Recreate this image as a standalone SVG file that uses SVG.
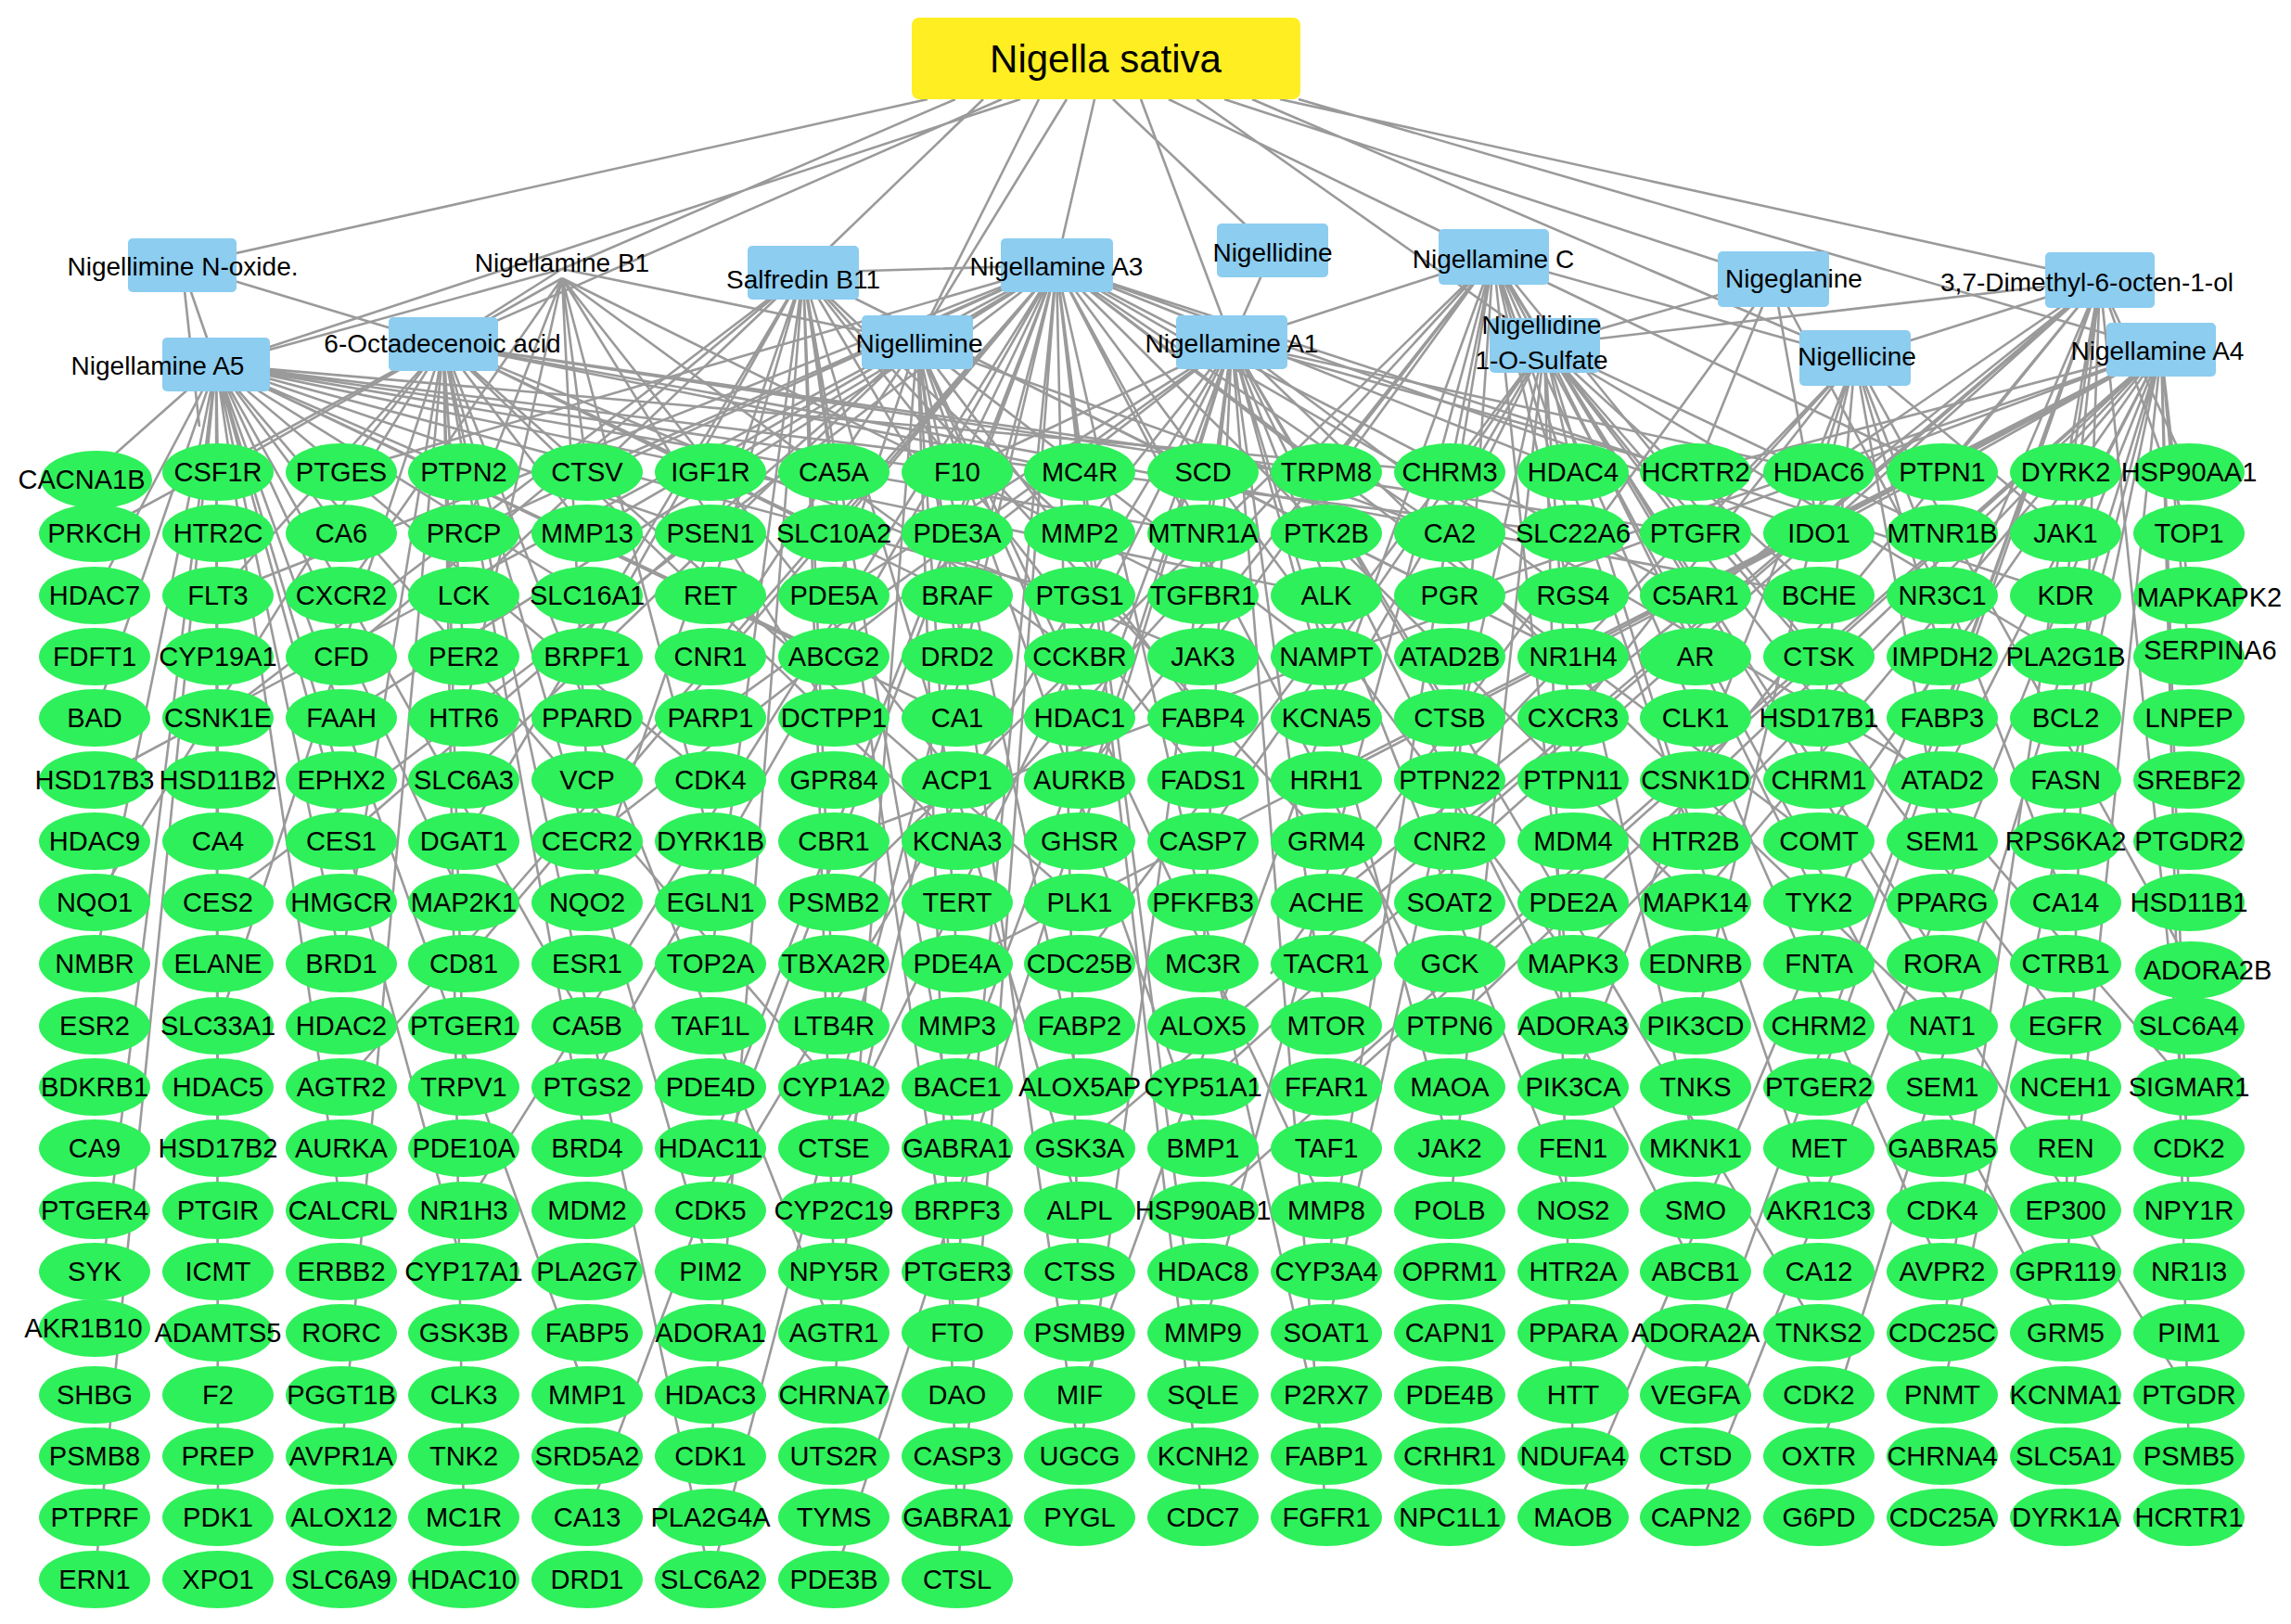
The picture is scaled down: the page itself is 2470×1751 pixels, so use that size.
<svg xmlns="http://www.w3.org/2000/svg" width="2470" height="1751" viewBox="0 0 2470 1751">
<style>
.e ellipse{rx:60px;ry:31px;fill:#2ef05a}
.e text{font-family:"Liberation Sans Narrow","Liberation Sans",Arial,sans-serif;font-size:29px;text-anchor:middle;dominant-baseline:central;fill:#000}
.c rect{fill:#8ccdf0}
.c text{font-family:"Liberation Sans",Arial,sans-serif;font-size:28px;text-anchor:middle;dominant-baseline:central;fill:#000}
#edges path{fill:none;stroke:#9a9a9a;stroke-width:2.6}
</style>
<rect width="2470" height="1751" fill="#fff"/>
<g id="edges">
<path d="M1000 107L196 286M1030 107L606 290M1060 107L866 294M1080 107L478 371M1100 107L233 393M1150 107L989 369M1180 107L1139 286M1200 107L1372 270M1230 107L1328 369M1260 107L1610 277M1290 107L1665 372M1320 107L1912 301M1350 107L2000 386M1380 107L2264 302M1400 107L2330 377M1120 107L989 369"/>
<path d="M196 286L233 393M196 286L478 371M196 286L215 460M606 290L233 393M606 290L478 371M606 290L989 369M866 294L1139 286M1372 270L1328 369M1610 277L1328 369M1912 301L1665 372M2264 302L2000 386M2264 302L1665 372M1610 277L2000 386"/>
<path d="M233 393L102 509M233 393L235 509M233 393L368 575M233 393L500 509M233 393L633 642M233 393L766 575M233 393L899 708M233 393L1032 509M233 393L1164 642M233 393L102 1039M233 393L235 1238M233 393L368 841M233 393L500 973M233 393L633 1106M233 393L102 774M233 393L235 907M233 393L766 841M233 393L1297 575M233 393L1430 642M233 393L102 1437M233 393L235 1570M233 393L368 1305M233 393L899 1172M233 393L500 1371M233 393L1032 774M233 393L1563 509M233 393L1696 575M233 393L633 1504M233 393L102 1703M233 393L235 1636M233 393L368 1039M233 393L102 642"/>
<path d="M478 371L102 575M478 371L235 642M478 371L368 509M478 371L500 708M478 371L633 575M478 371L766 509M478 371L899 575M478 371L1032 642M478 371L1164 509M478 371L1297 708M478 371L1430 509M478 371L368 1039M478 371L500 1172M478 371L633 1238M478 371L766 1371M478 371L899 1437M478 371L235 1106M478 371L1032 907M478 371L1164 973M478 371L1828 575M478 371L1961 642M478 371L102 973M478 371L368 1570M478 371L500 1636M478 371L766 1703"/>
<path d="M606 300L235 509M606 300L368 642M606 300L500 774M606 300L633 841M606 300L766 907M606 300L899 774M606 300L1032 841M606 300L1164 708M606 300L1297 642M606 300L500 575M606 300L633 509"/>
<path d="M866 294L500 642M866 294L633 708M866 294L766 642M866 294L899 509M866 294L1032 575M866 294L1164 575M866 294L1297 509M866 294L1430 575M866 294L368 708M866 294L235 774M866 294L766 1039M866 294L899 1106M866 294L1032 1238M866 294L1164 1305M866 294L633 973M866 294L500 907M866 294L1297 841M866 294L1430 907M866 294L1563 642M866 294L1696 708M866 294L899 1371M866 294L1032 1437M866 294L766 1570"/>
<path d="M989 369L633 575M989 369L766 708M989 369L899 642M989 369L1032 708M989 369L1164 774M989 369L1297 774M989 369L1430 708M989 369L1563 575M989 369L500 841M989 369L368 907M989 369L1032 1039M989 369L1164 1172M989 369L1297 1238M989 369L1430 1305M989 369L899 1504M989 369L1032 1636M989 369L1164 1570"/>
<path d="M1139 286L368 509M1139 286L500 575M1139 286L633 509M1139 286L766 509M1139 286L899 575M1139 286L1032 509M1139 286L1164 509M1139 286L1297 575M1139 286L1430 509M1139 286L1563 575M1139 286L1696 509M1139 286L1828 642M1139 286L1961 575M1139 286L235 642M1139 286L368 774M1139 286L500 1039M1139 286L633 1172M1139 286L766 1238M1139 286L899 1305M1139 286L1032 1371M1139 286L1164 1437M1139 286L1297 1504M1139 286L1430 1570M1139 286L1563 1106M1139 286L1696 1039M1139 286L1828 973M1139 286L1961 907M1139 286L2094 841M1139 286L102 841M1139 286L235 973M1139 286L368 1172M1139 286L500 1305M1139 286L633 1636M1139 286L766 1703M1139 286L1032 1703M1139 286L1297 1636M1139 286L2227 642"/>
<path d="M1328 369L1032 509M1328 369L1164 575M1328 369L1297 642M1328 369L1430 708M1328 369L1563 774M1328 369L1696 642M1328 369L1828 509M1328 369L1961 509M1328 369L899 642M1328 369L766 774M1328 369L633 907M1328 369L1164 907M1328 369L1297 1039M1328 369L1430 1106M1328 369L1563 1238M1328 369L1696 1305M1328 369L1828 1371M1328 369L1961 1437M1328 369L2094 1106M1328 369L1032 1172M1328 369L899 1238M1328 369L766 1305M1328 369L1164 1570M1328 369L1430 1636M1328 369L899 1703"/>
<path d="M1610 277L1430 509M1610 277L1563 509M1610 277L1696 575M1610 277L1828 642M1610 277L1961 708M1610 277L2094 509M1610 277L1297 708M1610 277L1164 841M1610 277L1032 907M1610 277L899 973M1610 277L1563 973M1610 277L1696 1106M1610 277L1828 1238M1610 277L1961 1305M1610 277L2094 1371M1610 277L2227 1437M1610 277L2360 1504M1610 277L1430 1371M1610 277L1297 1437M1610 277L1164 1504"/>
<path d="M1665 372L1563 575M1665 372L1696 509M1665 372L1828 575M1665 372L1961 642M1665 372L2094 575M1665 372L2227 708M1665 372L1430 774M1665 372L1297 907M1665 372L1164 1039M1665 372L1696 841M1665 372L1828 907M1665 372L1961 973M1665 372L2094 1039M1665 372L2227 1106M1665 372L2360 1172M1665 372L1563 1305M1665 372L1430 1437M1665 372L1696 1570"/>
<path d="M1912 301L1828 509M1912 301L1961 575M1912 301L2094 642M1912 301L1370 1050"/>
<path d="M2000 386L1828 575M2000 386L1961 509M2000 386L2094 708M2000 386L2227 575M2000 386L1696 774M2000 386L1563 841M2000 386L1961 841M2000 386L2094 907M2000 386L2227 973M2000 386L2360 1039M2000 386L1828 1106M2000 386L1696 1172"/>
<path d="M2264 302L1961 509M2264 302L2094 509M2264 302L2227 509M2264 302L2360 509M2264 302L2360 575M2264 302L2227 642M2264 302L2094 775M2264 302L1828 841M2264 302L1563 907M2264 302L1430 973M2264 302L1297 1172M2264 302L1164 1238M2264 302L1961 1172M2264 302L2360 1238M2264 302L2227 1305M2264 302L2094 1437M2264 302L1828 1504M2264 302L1696 1636"/>
<path d="M2330 377L1828 509M2330 377L1961 575M2330 377L2094 509M2330 377L2227 575M2330 377L2360 642M2330 377L2360 708M2330 377L2227 774M2330 377L2094 841M2330 377L1961 907M2330 377L1828 973M2330 377L1696 1039M2330 377L1563 1106M2330 377L1430 1172M2330 377L1297 1305M2330 377L2360 1305M2330 377L2227 1371M2330 377L2094 1504M2330 377L1961 1570M2330 377L1828 1636M2330 377L2360 1570M2330 377L1696 708M2330 377L1563 642M2330 377L1430 841M2330 377L1032 1039M2330 377L899 907"/>
</g>
<g id="root"><rect x="983" y="19" width="419" height="88" rx="8" fill="#ffee22"/><text x="1192" y="63" font-family="Liberation Sans, Arial, sans-serif" font-size="42" text-anchor="middle" dominant-baseline="central">Nigella sativa</text></g>
<g class="c">
<g id="c_noxide"><rect x="138" y="257" width="117" height="58" rx="5"/><text x="197" y="287">Nigellimine N-oxide.</text></g>
<g id="c_b1"><text x="606" y="283">Nigellamine B1</text></g>
<g id="c_salfredin"><rect x="806" y="265" width="120" height="58" rx="5"/><text x="866" y="301">Salfredin B11</text></g>
<g id="c_a3"><rect x="1079" y="257" width="121" height="58" rx="5"/><text x="1139" y="287">Nigellamine A3</text></g>
<g id="c_nigellidine"><rect x="1312" y="241" width="120" height="58" rx="5"/><text x="1372" y="272">Nigellidine</text></g>
<g id="c_c"><rect x="1551" y="247" width="119" height="60" rx="5"/><text x="1610" y="279">Nigellamine C</text></g>
<g id="c_nigeglanine"><rect x="1852" y="271" width="120" height="60" rx="5"/><text x="1934" y="300">Nigeglanine</text></g>
<g id="c_dimethyl"><rect x="2205" y="272" width="118" height="60" rx="5"/><text x="2250" y="304">3,7-Dimethyl-6-octen-1-ol</text></g>
<g id="c_a5"><rect x="175" y="364" width="116" height="58" rx="5"/><text x="170" y="394">Nigellamine A5</text></g>
<g id="c_octa"><rect x="419" y="342" width="118" height="58" rx="5"/><text x="477" y="370">6-Octadecenoic acid</text></g>
<g id="c_nigellimine"><rect x="929" y="340" width="120" height="58" rx="5"/><text x="991" y="370">Nigellimine</text></g>
<g id="c_a1"><rect x="1268" y="340" width="120" height="58" rx="5"/><text x="1328" y="370">Nigellamine A1</text></g>
<g id="c_sulfate"><rect x="1606" y="343" width="119" height="59" rx="5"/><text x="1662" y="350">Nigellidine</text><text x="1662" y="388">1-O-Sulfate</text></g>
<g id="c_nigellicine"><rect x="1940" y="356" width="120" height="60" rx="5"/><text x="2002" y="384">Nigellicine</text></g>
<g id="c_a4"><rect x="2271" y="348" width="118" height="58" rx="5"/><text x="2326" y="378">Nigellamine A4</text></g>
</g>
<g class="e">
<g id="t0_0"><ellipse cx="104" cy="517"/><text x="88" y="517">CACNA1B</text></g>
<g id="t0_1"><ellipse cx="235" cy="509"/><text x="235" y="509">CSF1R</text></g>
<g id="t0_2"><ellipse cx="368" cy="509"/><text x="368" y="509">PTGES</text></g>
<g id="t0_3"><ellipse cx="500" cy="509"/><text x="500" y="509">PTPN2</text></g>
<g id="t0_4"><ellipse cx="633" cy="509"/><text x="633" y="509">CTSV</text></g>
<g id="t0_5"><ellipse cx="766" cy="509"/><text x="766" y="509">IGF1R</text></g>
<g id="t0_6"><ellipse cx="899" cy="509"/><text x="899" y="509">CA5A</text></g>
<g id="t0_7"><ellipse cx="1032" cy="509"/><text x="1032" y="509">F10</text></g>
<g id="t0_8"><ellipse cx="1164" cy="509"/><text x="1164" y="509">MC4R</text></g>
<g id="t0_9"><ellipse cx="1297" cy="509"/><text x="1297" y="509">SCD</text></g>
<g id="t0_10"><ellipse cx="1430" cy="509"/><text x="1430" y="509">TRPM8</text></g>
<g id="t0_11"><ellipse cx="1563" cy="509"/><text x="1563" y="509">CHRM3</text></g>
<g id="t0_12"><ellipse cx="1696" cy="509"/><text x="1696" y="509">HDAC4</text></g>
<g id="t0_13"><ellipse cx="1828" cy="509"/><text x="1828" y="509">HCRTR2</text></g>
<g id="t0_14"><ellipse cx="1961" cy="509"/><text x="1961" y="509">HDAC6</text></g>
<g id="t0_15"><ellipse cx="2094" cy="509"/><text x="2094" y="509">PTPN1</text></g>
<g id="t0_16"><ellipse cx="2227" cy="509"/><text x="2227" y="509">DYRK2</text></g>
<g id="t0_17"><ellipse cx="2360" cy="509"/><text x="2360" y="509">HSP90AA1</text></g>
<g id="t1_0"><ellipse cx="102" cy="575"/><text x="102" y="575">PRKCH</text></g>
<g id="t1_1"><ellipse cx="235" cy="575"/><text x="235" y="575">HTR2C</text></g>
<g id="t1_2"><ellipse cx="368" cy="575"/><text x="368" y="575">CA6</text></g>
<g id="t1_3"><ellipse cx="500" cy="575"/><text x="500" y="575">PRCP</text></g>
<g id="t1_4"><ellipse cx="633" cy="575"/><text x="633" y="575">MMP13</text></g>
<g id="t1_5"><ellipse cx="766" cy="575"/><text x="766" y="575">PSEN1</text></g>
<g id="t1_6"><ellipse cx="899" cy="575"/><text x="899" y="575">SLC10A2</text></g>
<g id="t1_7"><ellipse cx="1032" cy="575"/><text x="1032" y="575">PDE3A</text></g>
<g id="t1_8"><ellipse cx="1164" cy="575"/><text x="1164" y="575">MMP2</text></g>
<g id="t1_9"><ellipse cx="1297" cy="575"/><text x="1297" y="575">MTNR1A</text></g>
<g id="t1_10"><ellipse cx="1430" cy="575"/><text x="1430" y="575">PTK2B</text></g>
<g id="t1_11"><ellipse cx="1563" cy="575"/><text x="1563" y="575">CA2</text></g>
<g id="t1_12"><ellipse cx="1696" cy="575"/><text x="1696" y="575">SLC22A6</text></g>
<g id="t1_13"><ellipse cx="1828" cy="575"/><text x="1828" y="575">PTGFR</text></g>
<g id="t1_14"><ellipse cx="1961" cy="575"/><text x="1961" y="575">IDO1</text></g>
<g id="t1_15"><ellipse cx="2094" cy="575"/><text x="2094" y="575">MTNR1B</text></g>
<g id="t1_16"><ellipse cx="2227" cy="575"/><text x="2227" y="575">JAK1</text></g>
<g id="t1_17"><ellipse cx="2360" cy="575"/><text x="2360" y="575">TOP1</text></g>
<g id="t2_0"><ellipse cx="102" cy="642"/><text x="102" y="642">HDAC7</text></g>
<g id="t2_1"><ellipse cx="235" cy="642"/><text x="235" y="642">FLT3</text></g>
<g id="t2_2"><ellipse cx="368" cy="642"/><text x="368" y="642">CXCR2</text></g>
<g id="t2_3"><ellipse cx="500" cy="642"/><text x="500" y="642">LCK</text></g>
<g id="t2_4"><ellipse cx="633" cy="642"/><text x="633" y="642">SLC16A1</text></g>
<g id="t2_5"><ellipse cx="766" cy="642"/><text x="766" y="642">RET</text></g>
<g id="t2_6"><ellipse cx="899" cy="642"/><text x="899" y="642">PDE5A</text></g>
<g id="t2_7"><ellipse cx="1032" cy="642"/><text x="1032" y="642">BRAF</text></g>
<g id="t2_8"><ellipse cx="1164" cy="642"/><text x="1164" y="642">PTGS1</text></g>
<g id="t2_9"><ellipse cx="1297" cy="642"/><text x="1297" y="642">TGFBR1</text></g>
<g id="t2_10"><ellipse cx="1430" cy="642"/><text x="1430" y="642">ALK</text></g>
<g id="t2_11"><ellipse cx="1563" cy="642"/><text x="1563" y="642">PGR</text></g>
<g id="t2_12"><ellipse cx="1696" cy="642"/><text x="1696" y="642">RGS4</text></g>
<g id="t2_13"><ellipse cx="1828" cy="642"/><text x="1828" y="642">C5AR1</text></g>
<g id="t2_14"><ellipse cx="1961" cy="642"/><text x="1961" y="642">BCHE</text></g>
<g id="t2_15"><ellipse cx="2094" cy="642"/><text x="2094" y="642">NR3C1</text></g>
<g id="t2_16"><ellipse cx="2227" cy="642"/><text x="2227" y="642">KDR</text></g>
<g id="t2_17"><ellipse cx="2360" cy="642"/><text x="2382" y="644">MAPKAPK2</text></g>
<g id="t3_0"><ellipse cx="102" cy="708"/><text x="102" y="708">FDFT1</text></g>
<g id="t3_1"><ellipse cx="235" cy="708"/><text x="235" y="708">CYP19A1</text></g>
<g id="t3_2"><ellipse cx="368" cy="708"/><text x="368" y="708">CFD</text></g>
<g id="t3_3"><ellipse cx="500" cy="708"/><text x="500" y="708">PER2</text></g>
<g id="t3_4"><ellipse cx="633" cy="708"/><text x="633" y="708">BRPF1</text></g>
<g id="t3_5"><ellipse cx="766" cy="708"/><text x="766" y="708">CNR1</text></g>
<g id="t3_6"><ellipse cx="899" cy="708"/><text x="899" y="708">ABCG2</text></g>
<g id="t3_7"><ellipse cx="1032" cy="708"/><text x="1032" y="708">DRD2</text></g>
<g id="t3_8"><ellipse cx="1164" cy="708"/><text x="1164" y="708">CCKBR</text></g>
<g id="t3_9"><ellipse cx="1297" cy="708"/><text x="1297" y="708">JAK3</text></g>
<g id="t3_10"><ellipse cx="1430" cy="708"/><text x="1430" y="708">NAMPT</text></g>
<g id="t3_11"><ellipse cx="1563" cy="708"/><text x="1563" y="708">ATAD2B</text></g>
<g id="t3_12"><ellipse cx="1696" cy="708"/><text x="1696" y="708">NR1H4</text></g>
<g id="t3_13"><ellipse cx="1828" cy="708"/><text x="1828" y="708">AR</text></g>
<g id="t3_14"><ellipse cx="1961" cy="708"/><text x="1961" y="708">CTSK</text></g>
<g id="t3_15"><ellipse cx="2094" cy="708"/><text x="2094" y="708">IMPDH2</text></g>
<g id="t3_16"><ellipse cx="2227" cy="708"/><text x="2227" y="708">PLA2G1B</text></g>
<g id="t3_17"><ellipse cx="2360" cy="708"/><text x="2383" y="701">SERPINA6</text></g>
<g id="t4_0"><ellipse cx="102" cy="774"/><text x="102" y="774">BAD</text></g>
<g id="t4_1"><ellipse cx="235" cy="774"/><text x="235" y="774">CSNK1E</text></g>
<g id="t4_2"><ellipse cx="368" cy="774"/><text x="368" y="774">FAAH</text></g>
<g id="t4_3"><ellipse cx="500" cy="774"/><text x="500" y="774">HTR6</text></g>
<g id="t4_4"><ellipse cx="633" cy="774"/><text x="633" y="774">PPARD</text></g>
<g id="t4_5"><ellipse cx="766" cy="774"/><text x="766" y="774">PARP1</text></g>
<g id="t4_6"><ellipse cx="899" cy="774"/><text x="899" y="774">DCTPP1</text></g>
<g id="t4_7"><ellipse cx="1032" cy="774"/><text x="1032" y="774">CA1</text></g>
<g id="t4_8"><ellipse cx="1164" cy="774"/><text x="1164" y="774">HDAC1</text></g>
<g id="t4_9"><ellipse cx="1297" cy="774"/><text x="1297" y="774">FABP4</text></g>
<g id="t4_10"><ellipse cx="1430" cy="774"/><text x="1430" y="774">KCNA5</text></g>
<g id="t4_11"><ellipse cx="1563" cy="774"/><text x="1563" y="774">CTSB</text></g>
<g id="t4_12"><ellipse cx="1696" cy="774"/><text x="1696" y="774">CXCR3</text></g>
<g id="t4_13"><ellipse cx="1828" cy="774"/><text x="1828" y="774">CLK1</text></g>
<g id="t4_14"><ellipse cx="1961" cy="774"/><text x="1961" y="774">HSD17B1</text></g>
<g id="t4_15"><ellipse cx="2094" cy="774"/><text x="2094" y="774">FABP3</text></g>
<g id="t4_16"><ellipse cx="2227" cy="774"/><text x="2227" y="774">BCL2</text></g>
<g id="t4_17"><ellipse cx="2360" cy="774"/><text x="2360" y="774">LNPEP</text></g>
<g id="t5_0"><ellipse cx="102" cy="841"/><text x="102" y="841">HSD17B3</text></g>
<g id="t5_1"><ellipse cx="235" cy="841"/><text x="235" y="841">HSD11B2</text></g>
<g id="t5_2"><ellipse cx="368" cy="841"/><text x="368" y="841">EPHX2</text></g>
<g id="t5_3"><ellipse cx="500" cy="841"/><text x="500" y="841">SLC6A3</text></g>
<g id="t5_4"><ellipse cx="633" cy="841"/><text x="633" y="841">VCP</text></g>
<g id="t5_5"><ellipse cx="766" cy="841"/><text x="766" y="841">CDK4</text></g>
<g id="t5_6"><ellipse cx="899" cy="841"/><text x="899" y="841">GPR84</text></g>
<g id="t5_7"><ellipse cx="1032" cy="841"/><text x="1032" y="841">ACP1</text></g>
<g id="t5_8"><ellipse cx="1164" cy="841"/><text x="1164" y="841">AURKB</text></g>
<g id="t5_9"><ellipse cx="1297" cy="841"/><text x="1297" y="841">FADS1</text></g>
<g id="t5_10"><ellipse cx="1430" cy="841"/><text x="1430" y="841">HRH1</text></g>
<g id="t5_11"><ellipse cx="1563" cy="841"/><text x="1563" y="841">PTPN22</text></g>
<g id="t5_12"><ellipse cx="1696" cy="841"/><text x="1696" y="841">PTPN11</text></g>
<g id="t5_13"><ellipse cx="1828" cy="841"/><text x="1828" y="841">CSNK1D</text></g>
<g id="t5_14"><ellipse cx="1961" cy="841"/><text x="1961" y="841">CHRM1</text></g>
<g id="t5_15"><ellipse cx="2094" cy="841"/><text x="2094" y="841">ATAD2</text></g>
<g id="t5_16"><ellipse cx="2227" cy="841"/><text x="2227" y="841">FASN</text></g>
<g id="t5_17"><ellipse cx="2360" cy="841"/><text x="2360" y="841">SREBF2</text></g>
<g id="t6_0"><ellipse cx="102" cy="907"/><text x="102" y="907">HDAC9</text></g>
<g id="t6_1"><ellipse cx="235" cy="907"/><text x="235" y="907">CA4</text></g>
<g id="t6_2"><ellipse cx="368" cy="907"/><text x="368" y="907">CES1</text></g>
<g id="t6_3"><ellipse cx="500" cy="907"/><text x="500" y="907">DGAT1</text></g>
<g id="t6_4"><ellipse cx="633" cy="907"/><text x="633" y="907">CECR2</text></g>
<g id="t6_5"><ellipse cx="766" cy="907"/><text x="766" y="907">DYRK1B</text></g>
<g id="t6_6"><ellipse cx="899" cy="907"/><text x="899" y="907">CBR1</text></g>
<g id="t6_7"><ellipse cx="1032" cy="907"/><text x="1032" y="907">KCNA3</text></g>
<g id="t6_8"><ellipse cx="1164" cy="907"/><text x="1164" y="907">GHSR</text></g>
<g id="t6_9"><ellipse cx="1297" cy="907"/><text x="1297" y="907">CASP7</text></g>
<g id="t6_10"><ellipse cx="1430" cy="907"/><text x="1430" y="907">GRM4</text></g>
<g id="t6_11"><ellipse cx="1563" cy="907"/><text x="1563" y="907">CNR2</text></g>
<g id="t6_12"><ellipse cx="1696" cy="907"/><text x="1696" y="907">MDM4</text></g>
<g id="t6_13"><ellipse cx="1828" cy="907"/><text x="1828" y="907">HTR2B</text></g>
<g id="t6_14"><ellipse cx="1961" cy="907"/><text x="1961" y="907">COMT</text></g>
<g id="t6_15"><ellipse cx="2094" cy="907"/><text x="2094" y="907">SEM1</text></g>
<g id="t6_16"><ellipse cx="2227" cy="907"/><text x="2227" y="907">RPS6KA2</text></g>
<g id="t6_17"><ellipse cx="2360" cy="907"/><text x="2360" y="907">PTGDR2</text></g>
<g id="t7_0"><ellipse cx="102" cy="973"/><text x="102" y="973">NQO1</text></g>
<g id="t7_1"><ellipse cx="235" cy="973"/><text x="235" y="973">CES2</text></g>
<g id="t7_2"><ellipse cx="368" cy="973"/><text x="368" y="973">HMGCR</text></g>
<g id="t7_3"><ellipse cx="500" cy="973"/><text x="500" y="973">MAP2K1</text></g>
<g id="t7_4"><ellipse cx="633" cy="973"/><text x="633" y="973">NQO2</text></g>
<g id="t7_5"><ellipse cx="766" cy="973"/><text x="766" y="973">EGLN1</text></g>
<g id="t7_6"><ellipse cx="899" cy="973"/><text x="899" y="973">PSMB2</text></g>
<g id="t7_7"><ellipse cx="1032" cy="973"/><text x="1032" y="973">TERT</text></g>
<g id="t7_8"><ellipse cx="1164" cy="973"/><text x="1164" y="973">PLK1</text></g>
<g id="t7_9"><ellipse cx="1297" cy="973"/><text x="1297" y="973">PFKFB3</text></g>
<g id="t7_10"><ellipse cx="1430" cy="973"/><text x="1430" y="973">ACHE</text></g>
<g id="t7_11"><ellipse cx="1563" cy="973"/><text x="1563" y="973">SOAT2</text></g>
<g id="t7_12"><ellipse cx="1696" cy="973"/><text x="1696" y="973">PDE2A</text></g>
<g id="t7_13"><ellipse cx="1828" cy="973"/><text x="1828" y="973">MAPK14</text></g>
<g id="t7_14"><ellipse cx="1961" cy="973"/><text x="1961" y="973">TYK2</text></g>
<g id="t7_15"><ellipse cx="2094" cy="973"/><text x="2094" y="973">PPARG</text></g>
<g id="t7_16"><ellipse cx="2227" cy="973"/><text x="2227" y="973">CA14</text></g>
<g id="t7_17"><ellipse cx="2360" cy="973"/><text x="2360" y="973">HSD11B1</text></g>
<g id="t8_0"><ellipse cx="102" cy="1039"/><text x="102" y="1039">NMBR</text></g>
<g id="t8_1"><ellipse cx="235" cy="1039"/><text x="235" y="1039">ELANE</text></g>
<g id="t8_2"><ellipse cx="368" cy="1039"/><text x="368" y="1039">BRD1</text></g>
<g id="t8_3"><ellipse cx="500" cy="1039"/><text x="500" y="1039">CD81</text></g>
<g id="t8_4"><ellipse cx="633" cy="1039"/><text x="633" y="1039">ESR1</text></g>
<g id="t8_5"><ellipse cx="766" cy="1039"/><text x="766" y="1039">TOP2A</text></g>
<g id="t8_6"><ellipse cx="899" cy="1039"/><text x="899" y="1039">TBXA2R</text></g>
<g id="t8_7"><ellipse cx="1032" cy="1039"/><text x="1032" y="1039">PDE4A</text></g>
<g id="t8_8"><ellipse cx="1164" cy="1039"/><text x="1164" y="1039">CDC25B</text></g>
<g id="t8_9"><ellipse cx="1297" cy="1039"/><text x="1297" y="1039">MC3R</text></g>
<g id="t8_10"><ellipse cx="1430" cy="1039"/><text x="1430" y="1039">TACR1</text></g>
<g id="t8_11"><ellipse cx="1563" cy="1039"/><text x="1563" y="1039">GCK</text></g>
<g id="t8_12"><ellipse cx="1696" cy="1039"/><text x="1696" y="1039">MAPK3</text></g>
<g id="t8_13"><ellipse cx="1828" cy="1039"/><text x="1828" y="1039">EDNRB</text></g>
<g id="t8_14"><ellipse cx="1961" cy="1039"/><text x="1961" y="1039">FNTA</text></g>
<g id="t8_15"><ellipse cx="2094" cy="1039"/><text x="2094" y="1039">RORA</text></g>
<g id="t8_16"><ellipse cx="2227" cy="1039"/><text x="2227" y="1039">CTRB1</text></g>
<g id="t8_17"><ellipse cx="2362" cy="1046"/><text x="2380" y="1046">ADORA2B</text></g>
<g id="t9_0"><ellipse cx="102" cy="1106"/><text x="102" y="1106">ESR2</text></g>
<g id="t9_1"><ellipse cx="235" cy="1106"/><text x="235" y="1106">SLC33A1</text></g>
<g id="t9_2"><ellipse cx="368" cy="1106"/><text x="368" y="1106">HDAC2</text></g>
<g id="t9_3"><ellipse cx="500" cy="1106"/><text x="500" y="1106">PTGER1</text></g>
<g id="t9_4"><ellipse cx="633" cy="1106"/><text x="633" y="1106">CA5B</text></g>
<g id="t9_5"><ellipse cx="766" cy="1106"/><text x="766" y="1106">TAF1L</text></g>
<g id="t9_6"><ellipse cx="899" cy="1106"/><text x="899" y="1106">LTB4R</text></g>
<g id="t9_7"><ellipse cx="1032" cy="1106"/><text x="1032" y="1106">MMP3</text></g>
<g id="t9_8"><ellipse cx="1164" cy="1106"/><text x="1164" y="1106">FABP2</text></g>
<g id="t9_9"><ellipse cx="1297" cy="1106"/><text x="1297" y="1106">ALOX5</text></g>
<g id="t9_10"><ellipse cx="1430" cy="1106"/><text x="1430" y="1106">MTOR</text></g>
<g id="t9_11"><ellipse cx="1563" cy="1106"/><text x="1563" y="1106">PTPN6</text></g>
<g id="t9_12"><ellipse cx="1696" cy="1106"/><text x="1696" y="1106">ADORA3</text></g>
<g id="t9_13"><ellipse cx="1828" cy="1106"/><text x="1828" y="1106">PIK3CD</text></g>
<g id="t9_14"><ellipse cx="1961" cy="1106"/><text x="1961" y="1106">CHRM2</text></g>
<g id="t9_15"><ellipse cx="2094" cy="1106"/><text x="2094" y="1106">NAT1</text></g>
<g id="t9_16"><ellipse cx="2227" cy="1106"/><text x="2227" y="1106">EGFR</text></g>
<g id="t9_17"><ellipse cx="2360" cy="1106"/><text x="2360" y="1106">SLC6A4</text></g>
<g id="t10_0"><ellipse cx="102" cy="1172"/><text x="102" y="1172">BDKRB1</text></g>
<g id="t10_1"><ellipse cx="235" cy="1172"/><text x="235" y="1172">HDAC5</text></g>
<g id="t10_2"><ellipse cx="368" cy="1172"/><text x="368" y="1172">AGTR2</text></g>
<g id="t10_3"><ellipse cx="500" cy="1172"/><text x="500" y="1172">TRPV1</text></g>
<g id="t10_4"><ellipse cx="633" cy="1172"/><text x="633" y="1172">PTGS2</text></g>
<g id="t10_5"><ellipse cx="766" cy="1172"/><text x="766" y="1172">PDE4D</text></g>
<g id="t10_6"><ellipse cx="899" cy="1172"/><text x="899" y="1172">CYP1A2</text></g>
<g id="t10_7"><ellipse cx="1032" cy="1172"/><text x="1032" y="1172">BACE1</text></g>
<g id="t10_8"><ellipse cx="1164" cy="1172"/><text x="1164" y="1172">ALOX5AP</text></g>
<g id="t10_9"><ellipse cx="1297" cy="1172"/><text x="1297" y="1172">CYP51A1</text></g>
<g id="t10_10"><ellipse cx="1430" cy="1172"/><text x="1430" y="1172">FFAR1</text></g>
<g id="t10_11"><ellipse cx="1563" cy="1172"/><text x="1563" y="1172">MAOA</text></g>
<g id="t10_12"><ellipse cx="1696" cy="1172"/><text x="1696" y="1172">PIK3CA</text></g>
<g id="t10_13"><ellipse cx="1828" cy="1172"/><text x="1828" y="1172">TNKS</text></g>
<g id="t10_14"><ellipse cx="1961" cy="1172"/><text x="1961" y="1172">PTGER2</text></g>
<g id="t10_15"><ellipse cx="2094" cy="1172"/><text x="2094" y="1172">SEM1</text></g>
<g id="t10_16"><ellipse cx="2227" cy="1172"/><text x="2227" y="1172">NCEH1</text></g>
<g id="t10_17"><ellipse cx="2360" cy="1172"/><text x="2360" y="1172">SIGMAR1</text></g>
<g id="t11_0"><ellipse cx="102" cy="1238"/><text x="102" y="1238">CA9</text></g>
<g id="t11_1"><ellipse cx="235" cy="1238"/><text x="235" y="1238">HSD17B2</text></g>
<g id="t11_2"><ellipse cx="368" cy="1238"/><text x="368" y="1238">AURKA</text></g>
<g id="t11_3"><ellipse cx="500" cy="1238"/><text x="500" y="1238">PDE10A</text></g>
<g id="t11_4"><ellipse cx="633" cy="1238"/><text x="633" y="1238">BRD4</text></g>
<g id="t11_5"><ellipse cx="766" cy="1238"/><text x="766" y="1238">HDAC11</text></g>
<g id="t11_6"><ellipse cx="899" cy="1238"/><text x="899" y="1238">CTSE</text></g>
<g id="t11_7"><ellipse cx="1032" cy="1238"/><text x="1032" y="1238">GABRA1</text></g>
<g id="t11_8"><ellipse cx="1164" cy="1238"/><text x="1164" y="1238">GSK3A</text></g>
<g id="t11_9"><ellipse cx="1297" cy="1238"/><text x="1297" y="1238">BMP1</text></g>
<g id="t11_10"><ellipse cx="1430" cy="1238"/><text x="1430" y="1238">TAF1</text></g>
<g id="t11_11"><ellipse cx="1563" cy="1238"/><text x="1563" y="1238">JAK2</text></g>
<g id="t11_12"><ellipse cx="1696" cy="1238"/><text x="1696" y="1238">FEN1</text></g>
<g id="t11_13"><ellipse cx="1828" cy="1238"/><text x="1828" y="1238">MKNK1</text></g>
<g id="t11_14"><ellipse cx="1961" cy="1238"/><text x="1961" y="1238">MET</text></g>
<g id="t11_15"><ellipse cx="2094" cy="1238"/><text x="2094" y="1238">GABRA5</text></g>
<g id="t11_16"><ellipse cx="2227" cy="1238"/><text x="2227" y="1238">REN</text></g>
<g id="t11_17"><ellipse cx="2360" cy="1238"/><text x="2360" y="1238">CDK2</text></g>
<g id="t12_0"><ellipse cx="102" cy="1305"/><text x="102" y="1305">PTGER4</text></g>
<g id="t12_1"><ellipse cx="235" cy="1305"/><text x="235" y="1305">PTGIR</text></g>
<g id="t12_2"><ellipse cx="368" cy="1305"/><text x="368" y="1305">CALCRL</text></g>
<g id="t12_3"><ellipse cx="500" cy="1305"/><text x="500" y="1305">NR1H3</text></g>
<g id="t12_4"><ellipse cx="633" cy="1305"/><text x="633" y="1305">MDM2</text></g>
<g id="t12_5"><ellipse cx="766" cy="1305"/><text x="766" y="1305">CDK5</text></g>
<g id="t12_6"><ellipse cx="899" cy="1305"/><text x="899" y="1305">CYP2C19</text></g>
<g id="t12_7"><ellipse cx="1032" cy="1305"/><text x="1032" y="1305">BRPF3</text></g>
<g id="t12_8"><ellipse cx="1164" cy="1305"/><text x="1164" y="1305">ALPL</text></g>
<g id="t12_9"><ellipse cx="1297" cy="1305"/><text x="1297" y="1305">HSP90AB1</text></g>
<g id="t12_10"><ellipse cx="1430" cy="1305"/><text x="1430" y="1305">MMP8</text></g>
<g id="t12_11"><ellipse cx="1563" cy="1305"/><text x="1563" y="1305">POLB</text></g>
<g id="t12_12"><ellipse cx="1696" cy="1305"/><text x="1696" y="1305">NOS2</text></g>
<g id="t12_13"><ellipse cx="1828" cy="1305"/><text x="1828" y="1305">SMO</text></g>
<g id="t12_14"><ellipse cx="1961" cy="1305"/><text x="1961" y="1305">AKR1C3</text></g>
<g id="t12_15"><ellipse cx="2094" cy="1305"/><text x="2094" y="1305">CDK4</text></g>
<g id="t12_16"><ellipse cx="2227" cy="1305"/><text x="2227" y="1305">EP300</text></g>
<g id="t12_17"><ellipse cx="2360" cy="1305"/><text x="2360" y="1305">NPY1R</text></g>
<g id="t13_0"><ellipse cx="102" cy="1371"/><text x="102" y="1371">SYK</text></g>
<g id="t13_1"><ellipse cx="235" cy="1371"/><text x="235" y="1371">ICMT</text></g>
<g id="t13_2"><ellipse cx="368" cy="1371"/><text x="368" y="1371">ERBB2</text></g>
<g id="t13_3"><ellipse cx="500" cy="1371"/><text x="500" y="1371">CYP17A1</text></g>
<g id="t13_4"><ellipse cx="633" cy="1371"/><text x="633" y="1371">PLA2G7</text></g>
<g id="t13_5"><ellipse cx="766" cy="1371"/><text x="766" y="1371">PIM2</text></g>
<g id="t13_6"><ellipse cx="899" cy="1371"/><text x="899" y="1371">NPY5R</text></g>
<g id="t13_7"><ellipse cx="1032" cy="1371"/><text x="1032" y="1371">PTGER3</text></g>
<g id="t13_8"><ellipse cx="1164" cy="1371"/><text x="1164" y="1371">CTSS</text></g>
<g id="t13_9"><ellipse cx="1297" cy="1371"/><text x="1297" y="1371">HDAC8</text></g>
<g id="t13_10"><ellipse cx="1430" cy="1371"/><text x="1430" y="1371">CYP3A4</text></g>
<g id="t13_11"><ellipse cx="1563" cy="1371"/><text x="1563" y="1371">OPRM1</text></g>
<g id="t13_12"><ellipse cx="1696" cy="1371"/><text x="1696" y="1371">HTR2A</text></g>
<g id="t13_13"><ellipse cx="1828" cy="1371"/><text x="1828" y="1371">ABCB1</text></g>
<g id="t13_14"><ellipse cx="1961" cy="1371"/><text x="1961" y="1371">CA12</text></g>
<g id="t13_15"><ellipse cx="2094" cy="1371"/><text x="2094" y="1371">AVPR2</text></g>
<g id="t13_16"><ellipse cx="2227" cy="1371"/><text x="2227" y="1371">GPR119</text></g>
<g id="t13_17"><ellipse cx="2360" cy="1371"/><text x="2360" y="1371">NR1I3</text></g>
<g id="t14_0"><ellipse cx="102" cy="1432"/><text x="90" y="1432">AKR1B10</text></g>
<g id="t14_1"><ellipse cx="235" cy="1437"/><text x="235" y="1437">ADAMTS5</text></g>
<g id="t14_2"><ellipse cx="368" cy="1437"/><text x="368" y="1437">RORC</text></g>
<g id="t14_3"><ellipse cx="500" cy="1437"/><text x="500" y="1437">GSK3B</text></g>
<g id="t14_4"><ellipse cx="633" cy="1437"/><text x="633" y="1437">FABP5</text></g>
<g id="t14_5"><ellipse cx="766" cy="1437"/><text x="766" y="1437">ADORA1</text></g>
<g id="t14_6"><ellipse cx="899" cy="1437"/><text x="899" y="1437">AGTR1</text></g>
<g id="t14_7"><ellipse cx="1032" cy="1437"/><text x="1032" y="1437">FTO</text></g>
<g id="t14_8"><ellipse cx="1164" cy="1437"/><text x="1164" y="1437">PSMB9</text></g>
<g id="t14_9"><ellipse cx="1297" cy="1437"/><text x="1297" y="1437">MMP9</text></g>
<g id="t14_10"><ellipse cx="1430" cy="1437"/><text x="1430" y="1437">SOAT1</text></g>
<g id="t14_11"><ellipse cx="1563" cy="1437"/><text x="1563" y="1437">CAPN1</text></g>
<g id="t14_12"><ellipse cx="1696" cy="1437"/><text x="1696" y="1437">PPARA</text></g>
<g id="t14_13"><ellipse cx="1828" cy="1437"/><text x="1828" y="1437">ADORA2A</text></g>
<g id="t14_14"><ellipse cx="1961" cy="1437"/><text x="1961" y="1437">TNKS2</text></g>
<g id="t14_15"><ellipse cx="2094" cy="1437"/><text x="2094" y="1437">CDC25C</text></g>
<g id="t14_16"><ellipse cx="2227" cy="1437"/><text x="2227" y="1437">GRM5</text></g>
<g id="t14_17"><ellipse cx="2360" cy="1437"/><text x="2360" y="1437">PIM1</text></g>
<g id="t15_0"><ellipse cx="102" cy="1504"/><text x="102" y="1504">SHBG</text></g>
<g id="t15_1"><ellipse cx="235" cy="1504"/><text x="235" y="1504">F2</text></g>
<g id="t15_2"><ellipse cx="368" cy="1504"/><text x="368" y="1504">PGGT1B</text></g>
<g id="t15_3"><ellipse cx="500" cy="1504"/><text x="500" y="1504">CLK3</text></g>
<g id="t15_4"><ellipse cx="633" cy="1504"/><text x="633" y="1504">MMP1</text></g>
<g id="t15_5"><ellipse cx="766" cy="1504"/><text x="766" y="1504">HDAC3</text></g>
<g id="t15_6"><ellipse cx="899" cy="1504"/><text x="899" y="1504">CHRNA7</text></g>
<g id="t15_7"><ellipse cx="1032" cy="1504"/><text x="1032" y="1504">DAO</text></g>
<g id="t15_8"><ellipse cx="1164" cy="1504"/><text x="1164" y="1504">MIF</text></g>
<g id="t15_9"><ellipse cx="1297" cy="1504"/><text x="1297" y="1504">SQLE</text></g>
<g id="t15_10"><ellipse cx="1430" cy="1504"/><text x="1430" y="1504">P2RX7</text></g>
<g id="t15_11"><ellipse cx="1563" cy="1504"/><text x="1563" y="1504">PDE4B</text></g>
<g id="t15_12"><ellipse cx="1696" cy="1504"/><text x="1696" y="1504">HTT</text></g>
<g id="t15_13"><ellipse cx="1828" cy="1504"/><text x="1828" y="1504">VEGFA</text></g>
<g id="t15_14"><ellipse cx="1961" cy="1504"/><text x="1961" y="1504">CDK2</text></g>
<g id="t15_15"><ellipse cx="2094" cy="1504"/><text x="2094" y="1504">PNMT</text></g>
<g id="t15_16"><ellipse cx="2227" cy="1504"/><text x="2227" y="1504">KCNMA1</text></g>
<g id="t15_17"><ellipse cx="2360" cy="1504"/><text x="2360" y="1504">PTGDR</text></g>
<g id="t16_0"><ellipse cx="102" cy="1570"/><text x="102" y="1570">PSMB8</text></g>
<g id="t16_1"><ellipse cx="235" cy="1570"/><text x="235" y="1570">PREP</text></g>
<g id="t16_2"><ellipse cx="368" cy="1570"/><text x="368" y="1570">AVPR1A</text></g>
<g id="t16_3"><ellipse cx="500" cy="1570"/><text x="500" y="1570">TNK2</text></g>
<g id="t16_4"><ellipse cx="633" cy="1570"/><text x="633" y="1570">SRD5A2</text></g>
<g id="t16_5"><ellipse cx="766" cy="1570"/><text x="766" y="1570">CDK1</text></g>
<g id="t16_6"><ellipse cx="899" cy="1570"/><text x="899" y="1570">UTS2R</text></g>
<g id="t16_7"><ellipse cx="1032" cy="1570"/><text x="1032" y="1570">CASP3</text></g>
<g id="t16_8"><ellipse cx="1164" cy="1570"/><text x="1164" y="1570">UGCG</text></g>
<g id="t16_9"><ellipse cx="1297" cy="1570"/><text x="1297" y="1570">KCNH2</text></g>
<g id="t16_10"><ellipse cx="1430" cy="1570"/><text x="1430" y="1570">FABP1</text></g>
<g id="t16_11"><ellipse cx="1563" cy="1570"/><text x="1563" y="1570">CRHR1</text></g>
<g id="t16_12"><ellipse cx="1696" cy="1570"/><text x="1696" y="1570">NDUFA4</text></g>
<g id="t16_13"><ellipse cx="1828" cy="1570"/><text x="1828" y="1570">CTSD</text></g>
<g id="t16_14"><ellipse cx="1961" cy="1570"/><text x="1961" y="1570">OXTR</text></g>
<g id="t16_15"><ellipse cx="2094" cy="1570"/><text x="2094" y="1570">CHRNA4</text></g>
<g id="t16_16"><ellipse cx="2227" cy="1570"/><text x="2227" y="1570">SLC5A1</text></g>
<g id="t16_17"><ellipse cx="2360" cy="1570"/><text x="2360" y="1570">PSMB5</text></g>
<g id="t17_0"><ellipse cx="102" cy="1636"/><text x="102" y="1636">PTPRF</text></g>
<g id="t17_1"><ellipse cx="235" cy="1636"/><text x="235" y="1636">PDK1</text></g>
<g id="t17_2"><ellipse cx="368" cy="1636"/><text x="368" y="1636">ALOX12</text></g>
<g id="t17_3"><ellipse cx="500" cy="1636"/><text x="500" y="1636">MC1R</text></g>
<g id="t17_4"><ellipse cx="633" cy="1636"/><text x="633" y="1636">CA13</text></g>
<g id="t17_5"><ellipse cx="766" cy="1636"/><text x="766" y="1636">PLA2G4A</text></g>
<g id="t17_6"><ellipse cx="899" cy="1636"/><text x="899" y="1636">TYMS</text></g>
<g id="t17_7"><ellipse cx="1032" cy="1636"/><text x="1032" y="1636">GABRA1</text></g>
<g id="t17_8"><ellipse cx="1164" cy="1636"/><text x="1164" y="1636">PYGL</text></g>
<g id="t17_9"><ellipse cx="1297" cy="1636"/><text x="1297" y="1636">CDC7</text></g>
<g id="t17_10"><ellipse cx="1430" cy="1636"/><text x="1430" y="1636">FGFR1</text></g>
<g id="t17_11"><ellipse cx="1563" cy="1636"/><text x="1563" y="1636">NPC1L1</text></g>
<g id="t17_12"><ellipse cx="1696" cy="1636"/><text x="1696" y="1636">MAOB</text></g>
<g id="t17_13"><ellipse cx="1828" cy="1636"/><text x="1828" y="1636">CAPN2</text></g>
<g id="t17_14"><ellipse cx="1961" cy="1636"/><text x="1961" y="1636">G6PD</text></g>
<g id="t17_15"><ellipse cx="2094" cy="1636"/><text x="2094" y="1636">CDC25A</text></g>
<g id="t17_16"><ellipse cx="2227" cy="1636"/><text x="2227" y="1636">DYRK1A</text></g>
<g id="t17_17"><ellipse cx="2360" cy="1636"/><text x="2360" y="1636">HCRTR1</text></g>
<g id="t18_0"><ellipse cx="102" cy="1703"/><text x="102" y="1703">ERN1</text></g>
<g id="t18_1"><ellipse cx="235" cy="1703"/><text x="235" y="1703">XPO1</text></g>
<g id="t18_2"><ellipse cx="368" cy="1703"/><text x="368" y="1703">SLC6A9</text></g>
<g id="t18_3"><ellipse cx="500" cy="1703"/><text x="500" y="1703">HDAC10</text></g>
<g id="t18_4"><ellipse cx="633" cy="1703"/><text x="633" y="1703">DRD1</text></g>
<g id="t18_5"><ellipse cx="766" cy="1703"/><text x="766" y="1703">SLC6A2</text></g>
<g id="t18_6"><ellipse cx="899" cy="1703"/><text x="899" y="1703">PDE3B</text></g>
<g id="t18_7"><ellipse cx="1032" cy="1703"/><text x="1032" y="1703">CTSL</text></g>
</g>
</svg>
